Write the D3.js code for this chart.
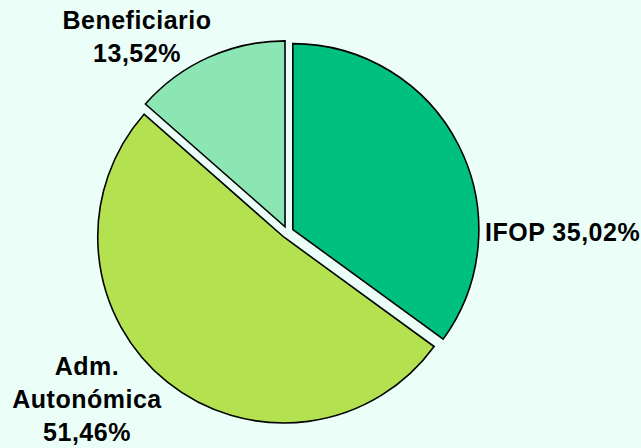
<!DOCTYPE html>
<html>
<head>
<meta charset="utf-8">
<script src="https://cdn.jsdelivr.net/npm/d3@7"></script>
<style>
  html, body { margin: 0; padding: 0; background: #ebfff8; }
  svg { display: block; }
  text { font-family: "Liberation Sans", Arial, sans-serif; font-weight: bold; font-size: 25px; fill: #000; letter-spacing: 0.5px; }
</style>
</head>
<body>
<svg id="chart" width="641" height="448"></svg>
<script>
// Data
const categories = ["IFOP", "Adm. Autonómica", "Beneficiario"];
const values = [35.02, 51.46, 13.52];
const valueLabels = ["35,02%", "51,46%", "13,52%"];
const labelLines = [["IFOP 35,02%"], ["Adm.", "Autonómica", "51,46%"], ["Beneficiario", "13,52%"]];
const colors = ["#00c080", "#b4e150", "#8ce6b4"];

// Layout
const W = 641, H = 448;
const cx = 287.5, cy = 232.3, R = 186, explode = 6;
const lineH = 33;
// label anchor offsets from pie centre (x, first baseline y) and anchor
const labelLayout = [
  { dx: 197.5, dy: 8.5, anchor: "start" },
  { dx: -200.5, dy: 143, anchor: "middle" },
  { dx: -150.5, dy: -203, anchor: "middle" }
];

const svg = d3.select("#chart");
svg.append("rect").attr("width", W).attr("height", H).attr("fill", "#ebfff8");

const pie = d3.pie().sort(null).startAngle(0).endAngle(2 * Math.PI).value(d => d);
const arcs = pie(values);
const arc = d3.arc().innerRadius(0).outerRadius(R);

const g = svg.append("g").attr("transform", `translate(${cx},${cy})`);

g.selectAll("path.slice")
  .data(arcs)
  .join("path")
  .attr("class", "slice")
  .attr("d", arc)
  .attr("fill", (d, i) => colors[i])
  .attr("stroke", "#000")
  .attr("stroke-width", 1.6)
  .attr("stroke-linejoin", "miter")
  .attr("transform", d => {
    const m = (d.startAngle + d.endAngle) / 2;
    return `translate(${explode * Math.sin(m)},${-explode * Math.cos(m)})`;
  });

const labels = g.selectAll("text.lbl")
  .data(arcs)
  .join("text")
  .attr("class", "lbl")
  .attr("text-anchor", (d, i) => labelLayout[i].anchor)
  .attr("transform", (d, i) => `translate(${labelLayout[i].dx},${labelLayout[i].dy})`);

labels.selectAll("tspan")
  .data((d, i) => labelLines[i])
  .join("tspan")
  .attr("x", 0)
  .attr("y", (t, j) => j * lineH)
  .text(t => t);
</script>
</body>
</html>
